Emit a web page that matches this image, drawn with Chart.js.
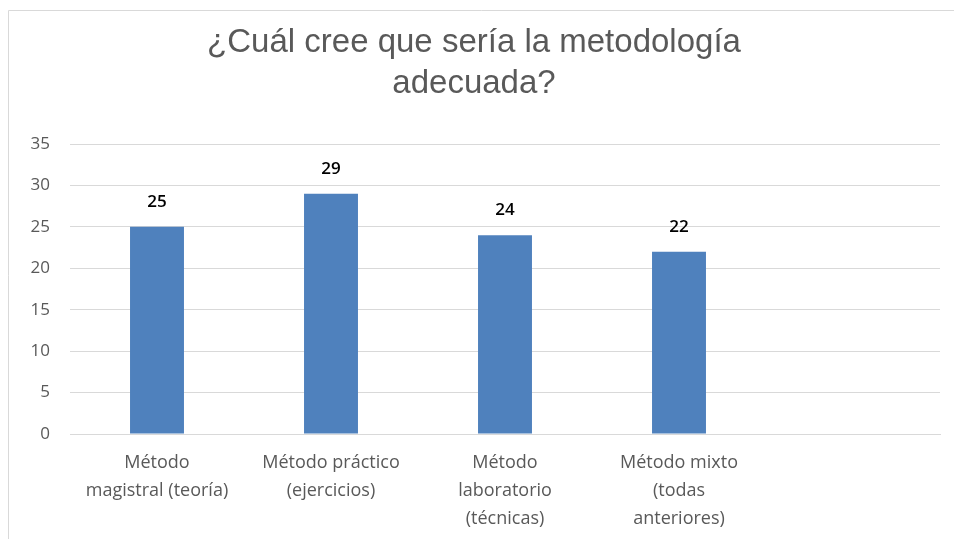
<!DOCTYPE html>
<html>
<head>
<meta charset="utf-8">
<script src="https://cdn.jsdelivr.net/npm/chart.js@4/dist/chart.umd.min.js"></script>
<style>
  html, body { margin: 0; padding: 0; background: #fff; }
  #wrap { width: 954px; height: 539px; position: relative; }
</style>
</head>
<body>
<div id="wrap"><canvas id="chart" width="954" height="539"></canvas></div>
<script>
const titleLines = ["¿Cuál cree que sería la metodología", "adecuada?"];
const categories = [
  ["Método", "magistral (teoría)"],
  ["Método práctico", "(ejercicios)"],
  ["Método", "laboratorio", "(técnicas)"],
  ["Método mixto", "(todas", "anteriores)"],
  ""
];
const values = [25, 29, 24, 22, null];
const yTicks = [0, 5, 10, 15, 20, 25, 30, 35];

const titleFont = "'Liberation Sans', Arial, sans-serif";
const tickFont = "'Open Sans', 'Liberation Sans', sans-serif";
const gray = "#595959";

// frame around the chart (cropped on right/bottom like the screenshot)
const framePlugin = {
  id: "frame",
  beforeDraw(chart) {
    const ctx = chart.ctx;
    ctx.save();
    ctx.strokeStyle = "#d9d9d9";
    ctx.lineWidth = 1;
    ctx.beginPath();
    ctx.moveTo(8.5, chart.height + 5);
    ctx.lineTo(8.5, 10.5);
    ctx.lineTo(chart.width + 5, 10.5);
    ctx.stroke();
    ctx.restore();
  }
};

// value labels above bars
const valueLabels = {
  id: "valueLabels",
  afterDatasetsDraw(chart) {
    const ctx = chart.ctx;
    const meta = chart.getDatasetMeta(0);
    ctx.save();
    ctx.fillStyle = "#000";
    ctx.font = "600 17px " + tickFont;
    ctx.textAlign = "center";
    ctx.textBaseline = "middle";
    meta.data.forEach((bar, i) => {
      if (values[i] == null) return;
      ctx.fillText(values[i], bar.x, bar.y - 25);
    });
    ctx.restore();
  }
};

new Chart(document.getElementById("chart"), {
  type: "bar",
  data: {
    labels: categories,
    datasets: [{
      data: values,
      backgroundColor: "#4f81bd",
      categoryPercentage: 1,
      barPercentage: 0.31
    }]
  },
  options: {
    responsive: false,
    animation: false,
    layout: { padding: { left: 8, right: 14, top: 0, bottom: 0 } },
    plugins: {
      legend: { display: false },
      tooltip: { enabled: false },
      title: {
        display: true,
        text: titleLines,
        color: gray,
        font: { family: titleFont, size: 33, weight: "normal", lineHeight: "41px" },
        padding: { top: 22, bottom: 40 }
      }
    },
    scales: {
      y: {
        min: 0,
        max: 35,
        afterBuildTicks: s => { s.ticks = yTicks.map(v => ({ value: v })); },
        afterFit: s => { s.width = 62; },
        border: { display: false },
        grid: { color: "#d9d9d9", drawTicks: false },
        ticks: { color: gray, padding: 20, font: { family: tickFont, size: 17 } }
      },
      x: {
        afterFit: s => { s.height = 105; },
        border: { color: "#d9d9d9" },
        grid: { display: false, drawTicks: false },
        ticks: {
          color: gray,
          padding: 15,
          maxRotation: 0,
          autoSkip: false,
          font: { family: tickFont, size: 18, lineHeight: "28px" }
        }
      }
    }
  },
  plugins: [framePlugin, valueLabels]
});
</script>
</body>
</html>
